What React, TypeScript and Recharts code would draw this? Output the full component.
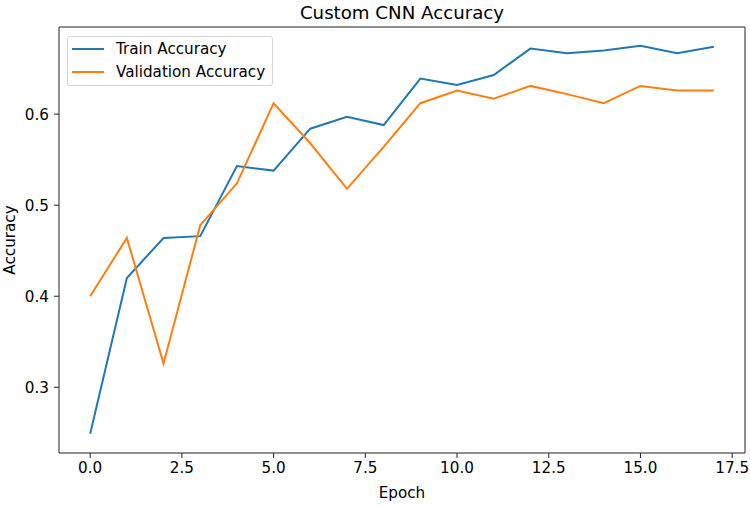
import React from 'react';
import { LineChart, Line, XAxis, YAxis, Legend, ReferenceLine, Label } from 'recharts';

const epochs = [0, 1, 2, 3, 4, 5, 6, 7, 8, 9, 10, 11, 12, 13, 14, 15, 16, 17];
const trainAccuracy = [0.249, 0.42, 0.464, 0.466, 0.543, 0.538, 0.584, 0.597, 0.588, 0.639, 0.632, 0.643, 0.672, 0.667, 0.67, 0.675, 0.667, 0.674];
const validationAccuracy = [0.4, 0.464, 0.326, 0.478, 0.524, 0.612, 0.568, 0.518, 0.564, 0.612, 0.626, 0.617, 0.631, 0.622, 0.612, 0.631, 0.626, 0.626];
const xTicks = [0, 2.5, 5, 7.5, 10, 12.5, 15, 17.5];
const yTicks = [0.3, 0.4, 0.5, 0.6];

// matplotlib-like 5% margins around the data
const X_MIN = -0.85;
const X_MAX = 17.85;
const Y_MIN = 0.2278;
const Y_MAX = 0.6957;

const data = epochs.map((epoch, i) => ({
  epoch,
  train: trainAccuracy[i],
  val: validationAccuracy[i],
}));

const FRAME = '#222';
const FONT = 15.2;

const LegendBox = ({ payload }: any) => (
  <div
    style={{
      boxSizing: 'border-box',
      width: 206,
      height: 50,
      border: '1px solid #d4d4d4',
      borderRadius: 3,
      background: 'rgba(255,255,255,0.8)',
      paddingTop: 1,
      paddingLeft: 4,
    }}
  >
    {(payload || []).map((entry: any) => (
      <div key={entry.value} style={{ display: 'flex', alignItems: 'center', height: 22.7 }}>
        <div style={{ width: 32, height: 2, background: entry.color, marginRight: 12 }} />
        <span style={{ fontSize: FONT, color: '#000', whiteSpace: 'nowrap' }}>{entry.value}</span>
      </div>
    ))}
  </div>
);

export default function App() {
  return (
    <div style={{ position: 'absolute', left: 0, top: 0, width: 750, height: 505, background: '#fff', fontFamily: '"DejaVu Sans", sans-serif' }}>
      <div
        style={{
          position: 'absolute',
          top: 4,
          left: 59,
          width: 686,
          textAlign: 'center',
          fontSize: 18.2,
          lineHeight: '18px',
          color: '#000',
        }}
      >
        Custom CNN Accuracy
      </div>
      <LineChart width={750} height={505} data={data} margin={{ top: 27, right: 5, bottom: 0, left: 0 }}>
        <XAxis
          dataKey="epoch"
          type="number"
          domain={[X_MIN, X_MAX]}
          ticks={xTicks}
          allowDataOverflow
          tickFormatter={(v: number) => v.toFixed(1)}
          height={52}
          tickSize={5}
          tickMargin={4}
          axisLine={{ stroke: FRAME }}
          tickLine={{ stroke: FRAME }}
          tick={{ fill: '#000', fontSize: FONT }}
        >
          <Label value="Epoch" position="insideBottom" offset={7} fill="#000" fontSize={FONT} />
        </XAxis>
        <YAxis
          type="number"
          domain={[Y_MIN, Y_MAX]}
          ticks={yTicks}
          allowDataOverflow
          tickFormatter={(v: number) => v.toFixed(1)}
          width={59}
          tickSize={5}
          tickMargin={5}
          axisLine={{ stroke: FRAME }}
          tickLine={{ stroke: FRAME }}
          tick={{ fill: '#000', fontSize: FONT }}
        >
          <Label value="Accuracy" angle={-90} position="center" dx={-20} fill="#000" fontSize={FONT} />
        </YAxis>
        <ReferenceLine y={Y_MAX} stroke={FRAME} />
        <ReferenceLine x={X_MAX} stroke={FRAME} />
        <Legend
          content={<LegendBox />}
          layout="horizontal"
          verticalAlign="middle"
          align="center"
          wrapperStyle={{ left: 67, top: 36, width: 206 }}
        />
        <Line type="linear" dataKey="train" name="Train Accuracy" stroke="#1f77b4" strokeWidth={2} dot={false} isAnimationActive={false} />
        <Line type="linear" dataKey="val" name="Validation Accuracy" stroke="#ff7f0e" strokeWidth={2} dot={false} isAnimationActive={false} />
      </LineChart>
    </div>
  );
}
